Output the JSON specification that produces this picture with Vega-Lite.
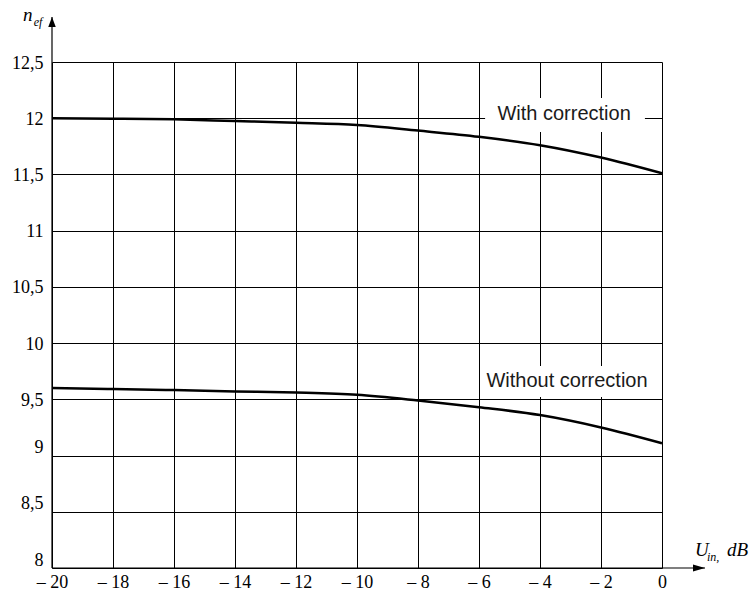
{
  "$schema": "https://vega.github.io/schema/vega-lite/v6.json",
  "width": 610,
  "height": 506,
  "autosize": {"type": "none"},
  "padding": {"left": 52, "top": 62, "right": 89, "bottom": 24},
  "background": "white",
  "config": {
    "view": {"stroke": null},
    "axis": {
      "labelFont": "Liberation Serif", "labelFontSize": 18, "labelColor": "#000",
      "grid": true, "gridColor": "#000", "gridWidth": 1, "gridOpacity": 1,
      "domain": false, "ticks": false, "title": null, "labelFlush": false
    }
  },
  "datasets": {
    "curves": [
      {"series": "With correction", "u": -20, "n": 12.0},
      {"series": "With correction", "u": -18, "n": 11.995},
      {"series": "With correction", "u": -16, "n": 11.99},
      {"series": "With correction", "u": -14, "n": 11.975},
      {"series": "With correction", "u": -12, "n": 11.96},
      {"series": "With correction", "u": -10, "n": 11.94},
      {"series": "With correction", "u": -8, "n": 11.89},
      {"series": "With correction", "u": -6, "n": 11.835},
      {"series": "With correction", "u": -4, "n": 11.76},
      {"series": "With correction", "u": -2, "n": 11.65},
      {"series": "With correction", "u": 0, "n": 11.51},
      {"series": "Without correction", "u": -20, "n": 9.6},
      {"series": "Without correction", "u": -18, "n": 9.592},
      {"series": "Without correction", "u": -16, "n": 9.582},
      {"series": "Without correction", "u": -14, "n": 9.57},
      {"series": "Without correction", "u": -12, "n": 9.56},
      {"series": "Without correction", "u": -10, "n": 9.54},
      {"series": "Without correction", "u": -8, "n": 9.49},
      {"series": "Without correction", "u": -6, "n": 9.43},
      {"series": "Without correction", "u": -4, "n": 9.36},
      {"series": "Without correction", "u": -2, "n": 9.25},
      {"series": "Without correction", "u": 0, "n": 9.11}
    ],
    "boxes": [
      {"label": "With correction", "x1": -5.8, "x2": -0.56, "y1": 12.18, "y2": 11.878, "xc": -3.21, "yc": 12.038},
      {"label": "Without correction", "x1": -5.9, "x2": -0.33, "y1": 9.797, "y2": 9.521, "xc": -3.115, "yc": 9.663}
    ],
    "titles": [
      {"t": "n", "x": -20.951, "y": 12.865},
      {"t": "U", "x": 1.082, "y": 8.107},
      {"t": "dB", "x": 2.131, "y": 8.107}
    ],
    "subs": [
      {"t": "ef", "x": -20.6, "y": 12.82},
      {"t": "in,", "x": 1.475, "y": 8.062}
    ],
    "axes": [
      {"x1": -20, "y1": 8, "x2": -20, "y2": 12.9},
      {"x1": -20, "y1": 8, "x2": 1.41, "y2": 8}
    ]
  },
  "layer": [
    {
      "data": {"name": "boxes"},
      "mark": {"type": "rect", "fill": "white", "stroke": null},
      "encoding": {
        "x": {"field": "x1", "type": "quantitative", "scale": {"domain": [-20, 0], "nice": false, "zero": false},
          "axis": {
            "values": [-20, -18, -16, -14, -12, -10, -8, -6, -4, -2, 0],
            "labelFont": "Liberation Serif",
            "labelPadding": 5, "labelBaseline": "top", "labelAlign": "center",
            "labelExpr": "datum.value == 0 ? '0' : '– ' + abs(datum.value)"
          }},
        "x2": {"field": "x2"},
        "y": {"field": "y1", "type": "quantitative", "scale": {"domain": [8, 12.5], "nice": false, "zero": false},
          "axis": {
            "values": [8, 8.5, 9, 9.5, 10, 10.5, 11, 11.5, 12, 12.5],
            "labelFont": "Liberation Serif",
            "labelPadding": 9, "labelBaseline": "middle", "labelAlign": "right",
            "labelOffset": {"condition": {"test": "datum.value <= 9", "value": -8}, "value": 1},
            "labelExpr": "replace(toString(datum.value), '.', ',')"
          }},
        "y2": {"field": "y2"}
      }
    },
    {
      "data": {"name": "curves"},
      "mark": {"type": "line", "color": "#000", "strokeWidth": 2.5, "interpolate": "monotone"},
      "encoding": {
        "x": {"field": "u", "type": "quantitative"},
        "y": {"field": "n", "type": "quantitative"},
        "detail": {"field": "series"}
      }
    },
    {
      "data": {"name": "boxes"},
      "mark": {"type": "text", "font": "Liberation Sans", "fontSize": 20, "color": "#1a1a1a", "align": "center", "baseline": "middle"},
      "encoding": {
        "x": {"field": "xc", "type": "quantitative"},
        "y": {"field": "yc", "type": "quantitative"},
        "text": {"field": "label"}
      }
    },
    {
      "data": {"name": "axes"},
      "mark": {"type": "rule", "color": "#000", "strokeWidth": 1.2, "clip": false},
      "encoding": {
        "x": {"field": "x1", "type": "quantitative"},
        "y": {"field": "y1", "type": "quantitative"},
        "x2": {"field": "x2"},
        "y2": {"field": "y2"}
      }
    },
    {
      "data": {"name": "axes"},
      "transform": [{"filter": "datum.x2 == -20"}],
      "mark": {"type": "point", "filled": true, "color": "#000", "opacity": 1, "size": 100, "shape": "M0,0L-0.75,2L0.75,2Z", "clip": false},
      "encoding": {
        "x": {"field": "x2", "type": "quantitative"},
        "y": {"field": "y2", "type": "quantitative"}
      }
    },
    {
      "data": {"name": "axes"},
      "transform": [{"filter": "datum.x2 > 0"}],
      "mark": {"type": "point", "filled": true, "color": "#000", "opacity": 1, "size": 100, "shape": "M0,0L-2.4,-0.7L-2.4,0.7Z", "clip": false},
      "encoding": {
        "x": {"field": "x2", "type": "quantitative"},
        "y": {"field": "y2", "type": "quantitative"}
      }
    },
    {
      "data": {"name": "titles"},
      "mark": {"type": "text", "font": "Liberation Serif", "fontStyle": "italic", "fontSize": 19, "color": "#000", "align": "left", "baseline": "alphabetic"},
      "encoding": {
        "x": {"field": "x", "type": "quantitative"},
        "y": {"field": "y", "type": "quantitative"},
        "text": {"field": "t"}
      }
    },
    {
      "data": {"name": "subs"},
      "mark": {"type": "text", "font": "Liberation Serif", "fontStyle": "italic", "fontSize": 12, "color": "#000", "align": "left", "baseline": "alphabetic"},
      "encoding": {
        "x": {"field": "x", "type": "quantitative"},
        "y": {"field": "y", "type": "quantitative"},
        "text": {"field": "t"}
      }
    }
  ]
}
